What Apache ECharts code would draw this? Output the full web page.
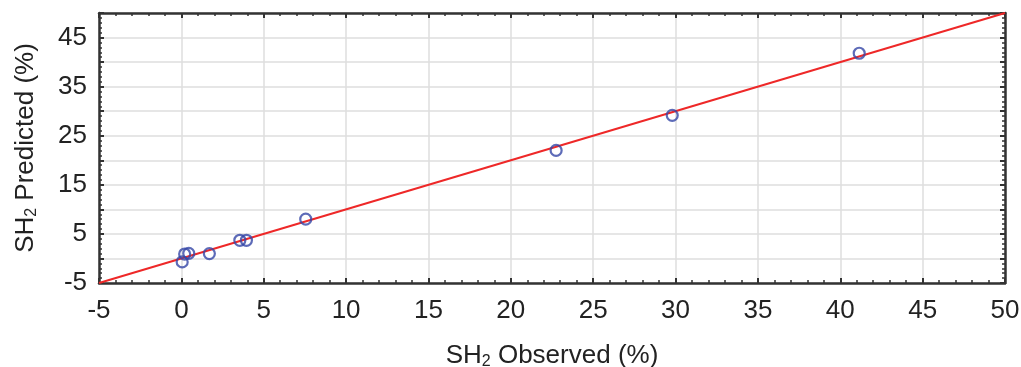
<!DOCTYPE html>
<html>
<head>
<meta charset="utf-8">
<script src="https://cdn.jsdelivr.net/npm/echarts@6/dist/echarts.min.js"></script>
<style>html,body{margin:0;padding:0;background:#fff}#c{width:1021px;height:367px}</style>
</head>
<body>
<div id="c"></div>
<script>
const observed  = [0.05, 0.2, 0.45, 1.7, 3.55, 3.95, 7.55, 22.75, 29.8, 41.15];
const predicted = [-0.7, 0.9, 1.05, 1.0, 3.7, 3.7, 8.0, 22.0, 29.15, 41.8];
const fitX = [-5, 50];
const fitY = [-5, 50];
const axisMin = -5, axisMax = 50, axisStep = 5;

const FONT = '"Liberation Sans", Arial, sans-serif';
const TXT = '#222';
const LINE = '#333';

const chart = echarts.init(document.getElementById('c'), null, {renderer: 'canvas'});

function baseAxis(extra) {
  return Object.assign({
    type: 'value', min: axisMin, max: axisMax, interval: axisStep,
    axisLine: {show: true, onZero: false, lineStyle: {color: LINE, width: 2.5}},
    axisTick: {show: true, inside: true, length: 5, lineStyle: {color: LINE, width: 2}},
    minorTick: {show: true, splitNumber: 5, length: 3, lineStyle: {color: LINE, width: 1.5}},
    splitLine: {show: false},
    axisLabel: {show: false}
  }, extra);
}

const nameRich = {
  n: {fontSize: 26, color: TXT, fontFamily: FONT},
  s: {fontSize: 16, color: TXT, fontFamily: FONT, padding: [13, 0, 0, 0]}
};

chart.setOption({
  animation: false,
  grid: {left: 99, right: 16, top: 13, bottom: 84, containLabel: false, outerBoundsMode: 'none'},
  xAxis: [
    baseAxis({
      position: 'bottom',
      splitLine: {show: true, lineStyle: {color: '#dedede', width: 1.5}},
      axisLabel: {show: true, fontSize: 26, color: TXT, fontFamily: FONT, margin: 15},
      name: '{n|SH}{s|2}{n| Observed (%)}',
      nameLocation: 'middle', nameGap: 58,
      nameTextStyle: {rich: nameRich}
    }),
    baseAxis({position: 'top'})
  ],
  yAxis: [
    baseAxis({
      position: 'left',
      splitLine: {show: true, lineStyle: {color: '#dedede', width: 1.5}},
      axisLabel: {show: true, fontSize: 26, color: TXT, fontFamily: FONT, margin: 12,
        formatter: v => ((v - axisMin) % (2 * axisStep) === 0 ? String(v) : '')},
      name: '{n|SH}{s|2}{n| Predicted (%)}',
      nameLocation: 'middle', nameGap: 59, nameRotate: 90,
      nameTextStyle: {rich: nameRich}
    }),
    baseAxis({position: 'right'})
  ],
  series: [
    {
      type: 'line', data: fitX.map((x, i) => [x, fitY[i]]),
      symbol: 'none', lineStyle: {color: '#ee2828', width: 2}, z: 3, silent: true
    },
    {
      type: 'scatter', data: observed.map((x, i) => [x, predicted[i]]),
      symbol: 'circle', symbolSize: 11,
      itemStyle: {color: 'rgba(0,0,0,0)', borderColor: '#3546a6', borderWidth: 2.2}, z: 4
    }
  ]
});
</script>
</body>
</html>
